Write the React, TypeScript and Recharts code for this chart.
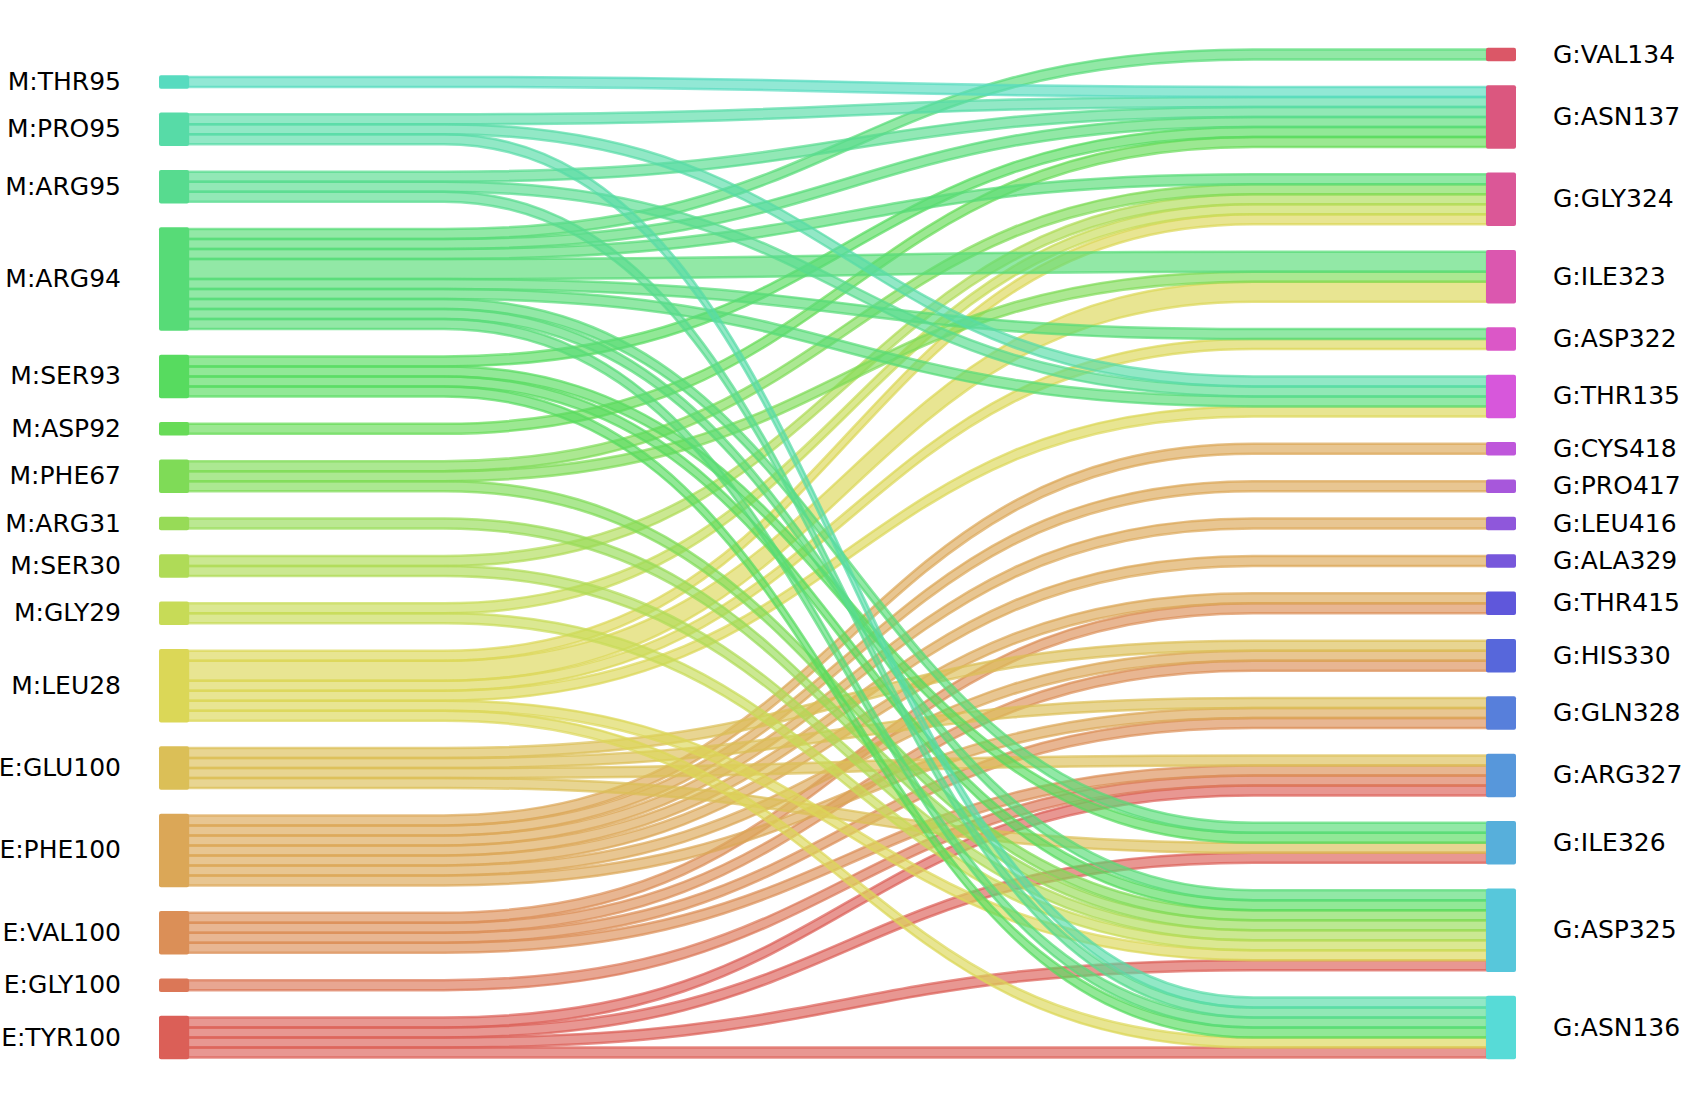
import React from 'react';
import { Sankey } from 'recharts';

// residues, top to bottom as they sit in each column
const LEFT_NODES = [
  'M:THR95', 'M:PRO95', 'M:ARG95', 'M:ARG94', 'M:SER93', 'M:ASP92', 'M:PHE67', 'M:ARG31',
  'M:SER30', 'M:GLY29', 'M:LEU28', 'E:GLU100', 'E:PHE100', 'E:VAL100', 'E:GLY100', 'E:TYR100',
];

const RIGHT_NODES = [
  'G:VAL134', 'G:ASN137', 'G:GLY324', 'G:ILE323', 'G:ASP322', 'G:THR135', 'G:CYS418', 'G:PRO417',
  'G:LEU416', 'G:ALA329', 'G:THR415', 'G:HIS330', 'G:GLN328', 'G:ARG327', 'G:ILE326', 'G:ASP325',
  'G:ASN136',
];

// [source, target, contacts] - drawn bottom source first, like the original
const LINKS: [string, string, number][] = [
  ['E:TYR100', 'G:ARG327', 1], ['E:TYR100', 'G:ILE326', 1], ['E:TYR100', 'G:ASP325', 1], ['E:TYR100', 'G:ASN136', 1],
  ['E:GLY100', 'G:ARG327', 1],
  ['E:VAL100', 'G:THR415', 1], ['E:VAL100', 'G:HIS330', 1], ['E:VAL100', 'G:GLN328', 1], ['E:VAL100', 'G:ARG327', 1],
  ['E:PHE100', 'G:CYS418', 1], ['E:PHE100', 'G:PRO417', 1], ['E:PHE100', 'G:LEU416', 1], ['E:PHE100', 'G:ALA329', 1],
  ['E:PHE100', 'G:THR415', 1], ['E:PHE100', 'G:HIS330', 1], ['E:PHE100', 'G:GLN328', 1],
  ['E:GLU100', 'G:HIS330', 1], ['E:GLU100', 'G:GLN328', 1], ['E:GLU100', 'G:ARG327', 1], ['E:GLU100', 'G:ILE326', 1],
  ['M:LEU28', 'G:GLY324', 1], ['M:LEU28', 'G:ILE323', 2], ['M:LEU28', 'G:ASP322', 1], ['M:LEU28', 'G:THR135', 1],
  ['M:LEU28', 'G:ASP325', 1], ['M:LEU28', 'G:ASN136', 1],
  ['M:GLY29', 'G:GLY324', 1], ['M:GLY29', 'G:ASP325', 1],
  ['M:SER30', 'G:GLY324', 1], ['M:SER30', 'G:ASP325', 1],
  ['M:ARG31', 'G:ASP325', 1],
  ['M:PHE67', 'G:GLY324', 1], ['M:PHE67', 'G:ILE323', 1], ['M:PHE67', 'G:ASP325', 1],
  ['M:ASP92', 'G:ASN137', 1],
  ['M:SER93', 'G:ASN137', 1], ['M:SER93', 'G:ILE326', 1], ['M:SER93', 'G:ASP325', 1], ['M:SER93', 'G:ASN136', 1],
  ['M:ARG94', 'G:VAL134', 1], ['M:ARG94', 'G:ASN137', 1], ['M:ARG94', 'G:GLY324', 1], ['M:ARG94', 'G:ILE323', 2],
  ['M:ARG94', 'G:ASP322', 1], ['M:ARG94', 'G:THR135', 1], ['M:ARG94', 'G:ILE326', 1], ['M:ARG94', 'G:ASP325', 1],
  ['M:ARG94', 'G:ASN136', 1],
  ['M:ARG95', 'G:ASN137', 1], ['M:ARG95', 'G:THR135', 1], ['M:ARG95', 'G:ASN136', 1],
  ['M:PRO95', 'G:ASN137', 1], ['M:PRO95', 'G:THR135', 1], ['M:PRO95', 'G:ASN136', 1],
  ['M:THR95', 'G:ASN137', 1],
];

const W = 1681;
const H = 1108;
const FONT = "'DejaVu Sans', sans-serif";
// invisible node that pushes the left column down one gap (original is bottom aligned)
const SPACER = '__spacer__';

// seaborn "hls" palette, colours handed out bottom-left first, then bottom-right
const TOTAL = LEFT_NODES.length + RIGHT_NODES.length;
const hls = (i: number) => `hsl(${((i / TOTAL + 0.01) * 360).toFixed(2)}, 65%, 60%)`;

const nodes = [
  { name: SPACER, color: 'none', side: 'left' },
  ...LEFT_NODES.map((name, p) => ({ name, color: hls(LEFT_NODES.length - 1 - p), side: 'left' })),
  ...RIGHT_NODES.map((name, q) => ({ name, color: hls(TOTAL - 1 - q), side: 'right' })),
];

const idx = (name: string) => nodes.findIndex(n => n.name === name);

const links = [
  { source: 0, target: idx('G:VAL134'), value: 0.0001 },
  ...LINKS.map(([s, t, v]) => ({ source: idx(s), target: idx(t), value: v })),
];

const SankeyNode = (props: any) => {
  const { x, y, width, height, payload } = props;
  if (payload.name === SPACER) return <g />;
  const left = payload.side === 'left';
  const cy = y + height / 2;
  return (
    <g>
      <rect x={x - 1} y={y - 1.75} width={width + 2} height={height + 3.5} rx={2} fill={payload.color} />
      <text
        x={left ? x - 39 : x + width + 38}
        y={cy + 8}
        textAnchor={left ? 'end' : 'start'}
        fontSize={25}
        fontFamily={FONT}
        fill="#000"
      >
        {payload.name}
      </text>
    </g>
  );
};

const SankeyLink = (props: any) => {
  const { sourceX, targetX, sourceY, targetY, linkWidth, payload } = props;
  const src = typeof payload.source === 'object' ? payload.source : nodes[payload.source];
  if (!src || src.name === SPACER) return <g />;
  const h = linkWidth / 2;
  const span = targetX - sourceX;
  // flat ends, S-bend in the middle (pySankey style)
  const xa = sourceX + span * 0.197;
  const xb = sourceX + span * 0.82;
  const xm = (xa + xb) / 2;
  const d =
    `M${sourceX},${sourceY - h} L${xa},${sourceY - h} ` +
    `C${xm},${sourceY - h} ${xm},${targetY - h} ${xb},${targetY - h} ` +
    `L${targetX},${targetY - h} L${targetX},${targetY + h} L${xb},${targetY + h} ` +
    `C${xm},${targetY + h} ${xm},${sourceY + h} ${xa},${sourceY + h} ` +
    `L${sourceX},${sourceY + h} Z`;
  return (
    <path
      d={d}
      fill={src.color}
      fillOpacity={0.65}
      stroke={src.color}
      strokeOpacity={0.7}
      strokeWidth={2.5}
    />
  );
};

export default function App() {
  return (
    <div style={{ position: 'absolute', left: 0, top: 0, width: W, height: H, background: '#fff' }}>
      <Sankey
        width={W}
        height={H}
        data={{ nodes, links }}
        node={SankeyNode}
        link={SankeyLink}
        nodeWidth={28}
        nodePadding={27.375}
        iterations={0}
        sort={false}
        margin={{ top: 49.5, bottom: 50.5, left: 160, right: 166 }}
      />
    </div>
  );
}
